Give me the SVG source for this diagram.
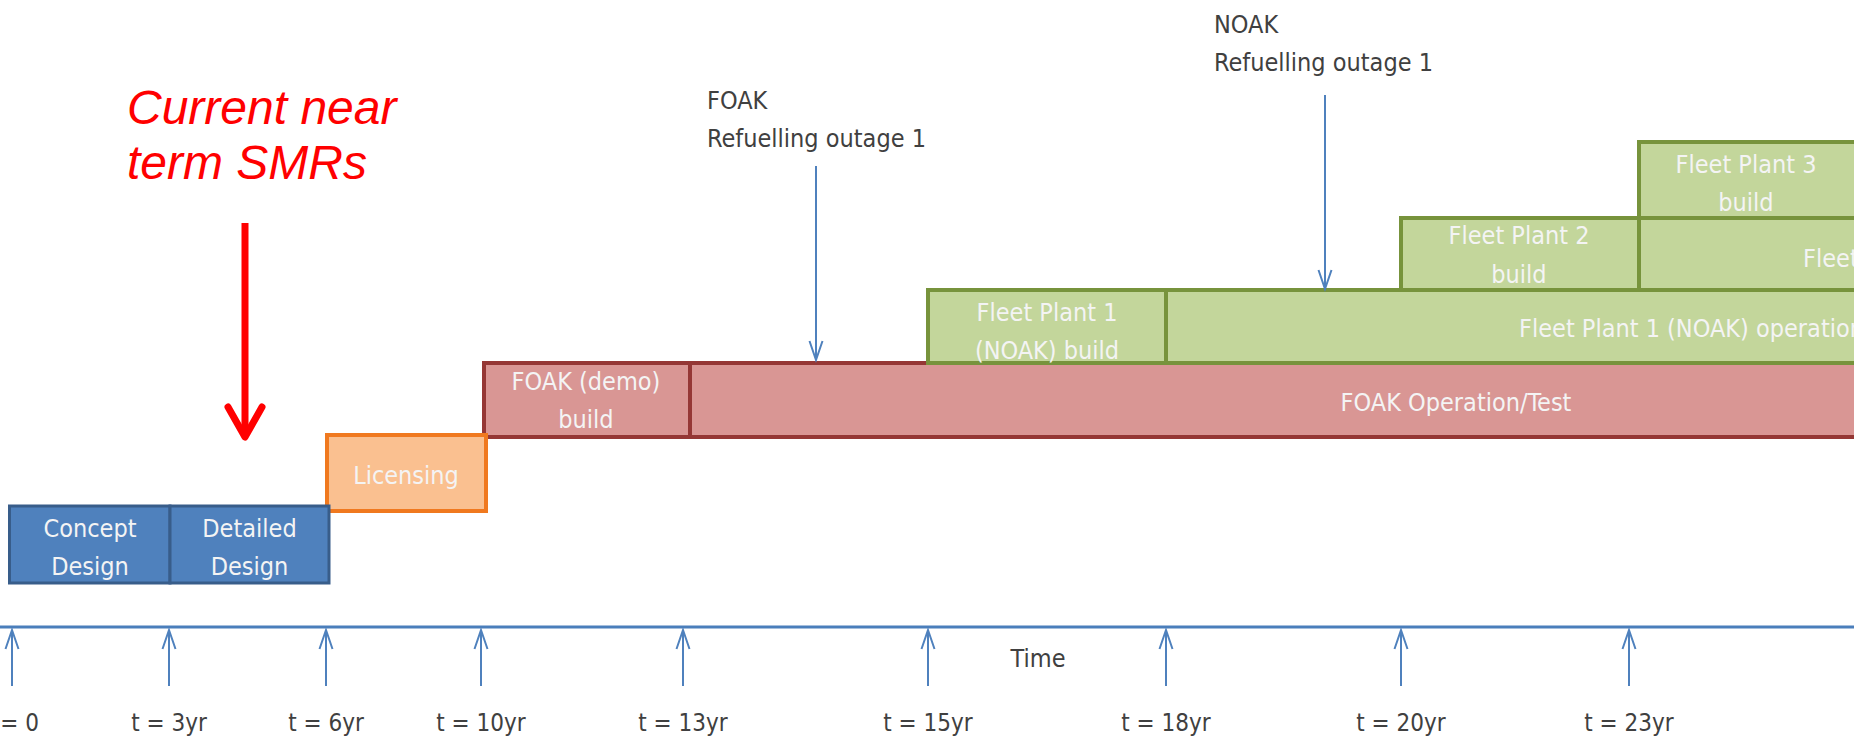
<svg xmlns="http://www.w3.org/2000/svg" width="1854" height="736" viewBox="0 0 1854 736">
<style>
.lbl{font-family:"Liberation Sans Narrow","DejaVu Sans Condensed","Liberation Sans",sans-serif;font-size:25px;text-anchor:middle}
.tl{font-size:24px}
.in{fill:#f4f4f4}
.dark{fill:#404040}
.blue{fill:#4f81bd;stroke:#385d8a;stroke-width:3}
.orange{fill:#fac090;stroke:#f0791f;stroke-width:4}
.red{fill:#d99694;stroke:#953735;stroke-width:4}
.green{fill:#c3d69b;stroke:#77933c;stroke-width:4}
.tick{stroke:#4f81bd;stroke-width:2;fill:none;marker-end:url(#chev)}
</style>
<defs>
<marker id="chev" markerUnits="userSpaceOnUse" viewBox="-22 -10 24 20" refX="0" refY="0" markerWidth="24" markerHeight="20" orient="auto" overflow="visible">
<path d="M -19 -6.5 L 0 0 L -19 6.5" fill="none" stroke="#4f81bd" stroke-width="2"/>
</marker>
<marker id="redchev" markerUnits="userSpaceOnUse" viewBox="-40 -22 44 44" refX="0" refY="0" markerWidth="44" markerHeight="44" orient="auto" overflow="visible">
<path d="M -30 -17 L 0 0 L -30 17" fill="none" stroke="#ff0000" stroke-width="7" stroke-linecap="round" stroke-linejoin="round"/>
</marker>
</defs>
<rect width="1854" height="736" fill="#ffffff"/>

<g id="foak-operation">
<rect class="red" x="690" y="363" width="1220" height="74"/>
<text class="lbl in" x="1456" y="411">FOAK Operation/Test</text>
</g>
<g id="foak-build">
<rect class="red" x="484" y="363" width="206" height="74"/>
<text class="lbl in" x="586" y="390">FOAK (demo)</text>
<text class="lbl in" x="586" y="428">build</text>
</g>
<g id="fleet1-operation">
<rect class="green" x="1166" y="290" width="760" height="73"/>
<text class="lbl in" x="1519" y="337" style="text-anchor:start">Fleet Plant 1 (NOAK) operation</text>
</g>
<g id="fleet1-build">
<rect class="green" x="928" y="290" width="238" height="73"/>
<text class="lbl in" x="1047" y="321">Fleet Plant 1</text>
<text class="lbl in" x="1047" y="359">(NOAK) build</text>
</g>
<g id="fleet2-operation">
<rect class="green" x="1639" y="218" width="300" height="72"/>
<text class="lbl in" x="1803" y="267" style="text-anchor:start">Fleet Plant 2 operation</text>
</g>
<g id="fleet2-build">
<rect class="green" x="1401" y="218" width="238" height="72"/>
<text class="lbl in" x="1519" y="244">Fleet Plant 2</text>
<text class="lbl in" x="1519" y="283">build</text>
</g>
<g id="fleet3-build">
<rect class="green" x="1639" y="142" width="300" height="76"/>
<text class="lbl in" x="1746" y="173">Fleet Plant 3</text>
<text class="lbl in" x="1746" y="211">build</text>
</g>
<g id="licensing">
<rect class="orange" x="327" y="435" width="159" height="76"/>
<text class="lbl in" x="406" y="484">Licensing</text>
</g>
<g id="concept-design">
<rect class="blue" x="9.5" y="506" width="160.5" height="77"/>
<text class="lbl in" x="90" y="537">Concept</text>
<text class="lbl in" x="90" y="575">Design</text>
</g>
<g id="detailed-design">
<rect class="blue" x="170" y="506" width="159" height="77"/>
<text class="lbl in" x="249.5" y="537">Detailed</text>
<text class="lbl in" x="249.5" y="575">Design</text>
</g>

<g id="annotations">
<text class="lbl dark" x="707" y="109" style="text-anchor:start">FOAK</text>
<text class="lbl dark" x="707" y="147" style="text-anchor:start">Refuelling outage 1</text>
<text class="lbl dark" x="1214" y="33" style="text-anchor:start">NOAK</text>
<text class="lbl dark" x="1214" y="71" style="text-anchor:start">Refuelling outage 1</text>
<text x="127" y="124" font-family="Liberation Sans, Arial, sans-serif" font-style="italic" font-size="48" fill="#ff0000">Current near</text>
<text x="127" y="179" font-family="Liberation Sans, Arial, sans-serif" font-style="italic" font-size="48" fill="#ff0000">term SMRs</text>
<text class="lbl dark" x="1038" y="667">Time</text>
</g>

<g id="time-labels">
<text class="lbl tl dark" x="12" y="731">t = 0</text>
<text class="lbl tl dark" x="169" y="731">t = 3yr</text>
<text class="lbl tl dark" x="326" y="731">t = 6yr</text>
<text class="lbl tl dark" x="481" y="731">t = 10yr</text>
<text class="lbl tl dark" x="683" y="731">t = 13yr</text>
<text class="lbl tl dark" x="928" y="731">t = 15yr</text>
<text class="lbl tl dark" x="1166" y="731">t = 18yr</text>
<text class="lbl tl dark" x="1401" y="731">t = 20yr</text>
<text class="lbl tl dark" x="1629" y="731">t = 23yr</text>
</g>

<g id="connectors">
<line x1="0" y1="627" x2="1854" y2="627" stroke="#4a7ebb" stroke-width="3"/>
<line class="tick" x1="12" y1="686" x2="12" y2="630"/>
<line class="tick" x1="169" y1="686" x2="169" y2="630"/>
<line class="tick" x1="326" y1="686" x2="326" y2="630"/>
<line class="tick" x1="481" y1="686" x2="481" y2="630"/>
<line class="tick" x1="683" y1="686" x2="683" y2="630"/>
<line class="tick" x1="928" y1="686" x2="928" y2="630"/>
<line class="tick" x1="1166" y1="686" x2="1166" y2="630"/>
<line class="tick" x1="1401" y1="686" x2="1401" y2="630"/>
<line class="tick" x1="1629" y1="686" x2="1629" y2="630"/>
<line class="tick" x1="816" y1="166" x2="816" y2="360"/>
<line class="tick" x1="1325" y1="95" x2="1325" y2="289"/>
<line x1="245" y1="223" x2="245" y2="437" stroke="#ff0000" stroke-width="7" marker-end="url(#redchev)"/>
</g>
</svg>
